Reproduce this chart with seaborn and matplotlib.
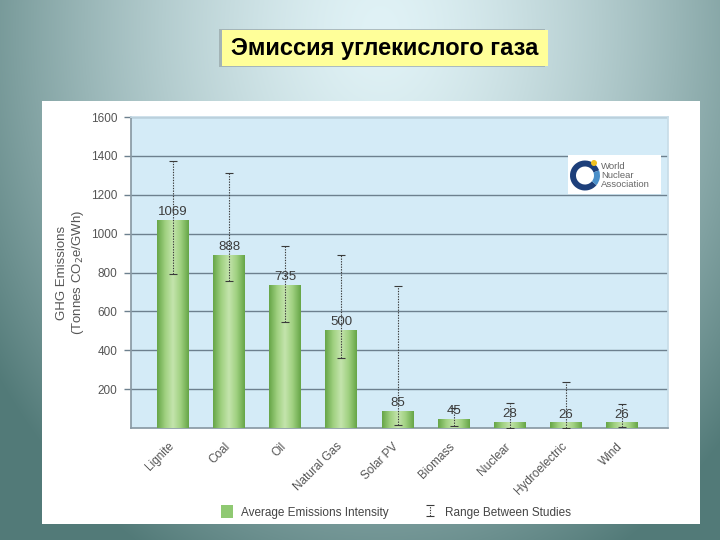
import numpy as np
import matplotlib
matplotlib.use('Agg')
import matplotlib.pyplot as plt
import matplotlib.transforms as mtransforms
import seaborn as sns
from matplotlib.patches import Rectangle, Patch, Wedge, Circle
from matplotlib.colors import LinearSegmentedColormap

categories = ["Lignite", "Coal", "Oil", "Natural Gas", "Solar PV", "Biomass",
              "Nuclear", "Hydroelectric", "Wind"]
average = [1069, 888, 735, 500, 85, 45, 28, 26, 26]
range_low = [790, 756, 547, 362, 13, 10, 2, 2, 6]
range_high = [1372, 1310, 935, 891, 731, 101, 130, 237, 124]
y_ticks = [200, 400, 600, 800, 1000, 1200, 1400, 1600]

sns.set_theme(style='white')
plt.rcParams['font.family'] = ['Liberation Sans', 'DejaVu Sans']

fig = plt.figure(figsize=(7.2, 5.4), dpi=100)

# slide background: radial gradient
bg = fig.add_axes([0, 0, 1, 1])
bg.axis('off')
H, W = 540, 720
yy, xx = np.mgrid[0:H, 0:W]
d = np.sqrt(((xx - 380) / 470.0) ** 2 + ((yy - 30) / 600.0) ** 2)
d = np.clip(d, 0, 1)
light = np.array([224, 242, 246]) / 255.0
dark = np.array([82, 122, 120]) / 255.0
img = light[None, None, :] * (1 - d[..., None] ** 1.5) + dark[None, None, :] * (d[..., None] ** 1.5)
bg.imshow(img, extent=[0, 1, 0, 1], aspect='auto', origin='upper')
bg.set_xlim(0, 1)
bg.set_ylim(0, 1)

# white panel
bg.add_patch(Rectangle((42 / 720, 1 - 524 / 540), (700 - 42) / 720, (524 - 101) / 540,
                       facecolor='white', edgecolor='none', zorder=2))
# title box with shadow
bg.add_patch(Rectangle((219 / 720, 1 - 67 / 540), (548 - 222) / 720, 38 / 540,
                       facecolor='#8f9c9e', edgecolor='none', alpha=0.6, zorder=2))
bg.add_patch(Rectangle((222 / 720, 1 - 66 / 540), (548 - 222) / 720, 36 / 540,
                       facecolor='#ffff99', edgecolor='none', zorder=3))
fig.text(385 / 720, 1 - 48 / 540, "Эмиссия углекислого газа", ha='center', va='center',
         fontsize=17, fontweight='bold', color='black', zorder=4)

# main chart axes
ax = fig.add_axes([131 / 720, 1 - 428 / 540, (668 - 131) / 720, (428 - 117) / 540])
ax.set_facecolor('#d4ebf7')
ax.set_zorder(5)

sns.barplot(x=categories, y=average, color='#8cc46e', width=0.57, ax=ax,
            edgecolor='none', zorder=3)

green = LinearSegmentedColormap.from_list('g', ['#67a648', '#9fd07f', '#c4e4ad', '#9fd07f', '#67a648'])
grad = np.linspace(0, 1, 64)[None, :]
for p in list(ax.patches):
    x0, w, h = p.get_x(), p.get_width(), p.get_height()
    ax.imshow(grad, extent=[x0, x0 + w, 0, h], aspect='auto', cmap=green, zorder=3.5)

xs = np.arange(len(categories))
avg = np.array(average)
eb = ax.errorbar(xs, avg, yerr=[avg - np.array(range_low), np.array(range_high) - avg],
                 fmt='none', ecolor='#3a3a3a', elinewidth=0.8, capsize=3, capthick=0.8,
                 zorder=6)
for lc in eb.lines[2]:
    lc.set_linestyle((0, (1.2, 1.2)))

for i, v in enumerate(average):
    ax.text(i, v + 12, str(v), ha='center', va='bottom', fontsize=9.5, color='#3c3c3c', zorder=7)

ax.set_xlim(-0.75, 8.82)
ax.set_ylim(0, 1600)
ax.set_yticks(y_ticks)
ax.yaxis.grid(True, color='#6d808e', linewidth=1.0, zorder=1)
ax.set_axisbelow(True)
ax.tick_params(axis='y', left=True, length=5, width=1.0, color='#6d808e', pad=5,
               labelsize=8.5, labelcolor='#555555')
ax.tick_params(axis='x', bottom=False, labelsize=8.5, labelcolor='#555555', pad=3)
shift = mtransforms.ScaledTranslation(-5 / 100, 0, fig.dpi_scale_trans)
for lbl in ax.get_xticklabels():
    lbl.set_rotation(45)
    lbl.set_ha('right')
    lbl.set_rotation_mode('anchor')
    lbl.set_transform(lbl.get_transform() + shift)
for s in ['top', 'right']:
    ax.spines[s].set_color('#c8dde8')
ax.spines['left'].set_color('#8a9aa5')
ax.spines['bottom'].set_color('#8a9aa5')
ax.set_xlabel('')
ax.set_ylabel('GHG Emissions\n(Tonnes CO$_2$e/GWh)', fontsize=9.5, color='#555555', labelpad=3)

leg = fig.legend([Patch(facecolor='#8fc972', edgecolor='none'), eb],
                 ['Average Emissions Intensity', 'Range Between Studies'],
                 loc='center', bbox_to_anchor=(396 / 720, 1 - 512 / 540), ncol=2, frameon=False,
                 fontsize=8.5, handlelength=1.0, handleheight=1.2, columnspacing=3.0,
                 handletextpad=0.7)
for t in leg.get_texts():
    t.set_color('#444444')

# logo
lax = fig.add_axes([568 / 720, 1 - 194 / 540, 93 / 720, 39 / 540])
lax.set_zorder(8)
lax.set_xlim(0, 93)
lax.set_ylim(0, 39)
lax.set_facecolor('white')
lax.set_xticks([])
lax.set_yticks([])
for s in lax.spines.values():
    s.set_visible(False)
lax.add_patch(Wedge((17, 18.5), 15, 20, 320, width=6, facecolor='#1d3f7a', edgecolor='none'))
lax.add_patch(Wedge((17, 18.5), 15, 320, 380, width=6, facecolor='#4a8fc9', edgecolor='none'))
lax.add_patch(Circle((26, 31), 3, facecolor='#f0c020', edgecolor='none'))
lax.text(33, 18.5, 'World\nNuclear\nAssociation', fontsize=6.8, color='#666666',
         va='center', ha='left', linespacing=0.95)

fig.savefig('out.png', dpi=100)
